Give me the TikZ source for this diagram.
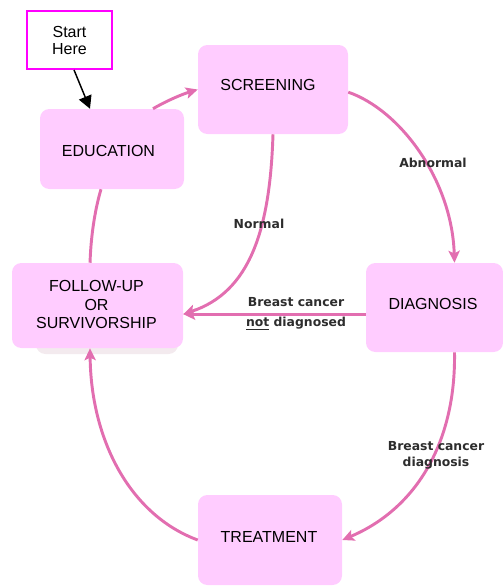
\documentclass[tikz,border=0pt]{standalone}
\usepackage{fontspec}
\setmainfont{Liberation Sans}
\newfontfamily\labfont{DejaVu Sans}
\usetikzlibrary{arrows.meta}
\definecolor{boxpink}{RGB}{255,204,255}
\definecolor{arrpink}{RGB}{226,110,176}
\definecolor{magborder}{RGB}{255,0,255}
\definecolor{shadowc}{RGB}{243,234,238}
\definecolor{labc}{RGB}{45,45,45}
\begin{document}
\begin{tikzpicture}[x=0.75pt,y=-0.75pt,
  box/.style={draw=none,fill=boxpink,rounded corners=7pt,inner sep=0pt},
  txt/.style={font=\fontsize{12}{13.8}\selectfont,align=center,inner sep=0pt,text=black},
  lab/.style={font=\labfont\bfseries\fontsize{9.3}{12}\selectfont,text=labc,align=center,inner sep=0pt},
  flow/.style={draw=arrpink,line width=2.2pt,-{Stealth[length=9pt,width=8.5pt,inset=2pt]}},
  link/.style={draw=arrpink,line width=2.2pt}]
\useasboundingbox (0,0) rectangle (503,586);
% shadow of follow-up box
\fill[shadowc,rounded corners=7pt] (36,272) rectangle (178,354);
% boxes
\node[draw=magborder,line width=1.5pt,fill=white,minimum width=63.75pt,minimum height=43.5pt,inner sep=0pt] (start) at (69.5,40) {};
\node[box,minimum width=108pt,minimum height=60pt] (edu) at (112,149) {};
\node[box,minimum width=112.5pt,minimum height=66.75pt] (scr) at (273,89.5) {};
\node[box,minimum width=102.75pt,minimum height=66.75pt] (dia) at (434.5,307.5) {};
\node[box,minimum width=108pt,minimum height=67.5pt] (tre) at (270,540) {};
\node[box,minimum width=128.25pt,minimum height=63.75pt] (fu) at (97.5,305.5) {};
% texts
\node[txt,font=\fontsize{12}{12.75}\selectfont] (startt) at (69.5,40.5) {Start\\Here};
\node[txt] (edut) at (108.5,150.5) {EDUCATION};
\node[txt] (scrt) at (268,85) {SCREENING};
\node[txt] (diat) at (433,304) {DIAGNOSIS};
\node[txt] (tret) at (269,536.5) {TREATMENT};
\node[txt] (fut) at (96.5,304.5) {FOLLOW-UP\\OR\\SURVIVORSHIP};
% connectors
\draw[black,line width=1.1pt,-{Triangle[length=9.5pt,width=10pt]}] ([xshift=3.4pt]start.south) -- ([xshift=-16.5pt]edu.north);
\draw[flow] ([xshift=30.75pt]edu.north) .. controls (168,100) and (183,94) .. (scr.west);
\draw[flow] ([yshift=-2pt]scr.east) .. controls (400,110) and (452,180) .. ([xshift=15pt]dia.north);
\draw[flow] (scr.south) .. controls (270,230) and (250,292) .. ([yshift=-6.5pt]fu.east);
\draw[flow] ([yshift=-5pt]dia.west) -- ([yshift=-6.5pt]fu.east);
\draw[flow] ([xshift=15pt]dia.south) .. controls (456,440) and (418,508) .. (tre.east);
\draw[flow] (tre.west) .. controls (130,515) and (91,440) .. ([xshift=-5.6pt]fu.south);
\draw[link] ([xshift=-5.6pt]fu.north) .. controls (91,232) and (96,206) .. ([xshift=-8.25pt]edu.south);
% labels
\node[lab] (labn) at (259,224) {Normal};
\node[lab] (laba) at (433,163) {Abnormal};
\node[lab,font=\labfont\bfseries\fontsize{9.3}{15.5}\selectfont] (labnd) at (296,313.5) {Breast cancer\\\underline{not} diagnosed};
\node[lab] (labd) at (436,455) {Breast cancer\\diagnosis};
\end{tikzpicture}
\end{document}
